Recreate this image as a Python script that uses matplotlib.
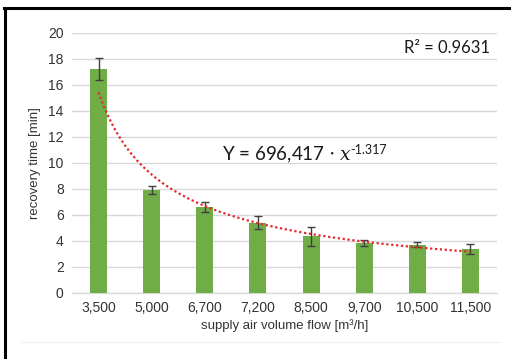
import numpy as np
import matplotlib
matplotlib.use("Agg")
import matplotlib.pyplot as plt
from matplotlib.lines import Line2D

categories = ["3,500", "5,000", "6,700", "7,200", "8,500", "9,700", "10,500", "11,500"]
recovery = [17.2, 7.95, 6.6, 5.35, 4.35, 3.85, 3.72, 3.36]
err_low = [0.8, 0.3, 0.4, 0.45, 0.75, 0.25, 0.18, 0.38]
err_high = [0.9, 0.3, 0.42, 0.55, 0.75, 0.25, 0.18, 0.38]
r2_label = "R² = 0.9631"
eq_main = r"Y = 696,417 $\cdot$ $\mathit{x}$"
eq_exp = "-1.317"

plt.rcParams["font.family"] = ["Liberation Sans", "DejaVu Sans"]
plt.rcParams["mathtext.fontset"] = "dejavuserif"

fig = plt.figure(figsize=(5.11, 3.59), dpi=100)
ax = fig.add_axes([72/511, 66/359, 425/511, 260/359])

x = np.arange(len(categories))
ax.bar(x, recovery, width=0.32, color="#70AD47", zorder=3)
ax.errorbar(x, recovery, yerr=[err_low, err_high], fmt="none", ecolor="#404040",
            elinewidth=1.0, capsize=3.0, capthick=1.0, zorder=4)

# power trendline fitted on category index (like Excel)
idx = x + 1
b, lna = np.polyfit(np.log(idx), np.log(recovery), 1)
xs = np.linspace(1, len(categories), 200)
ys = np.exp(lna) * xs ** b
ax.plot(xs - 1, ys, linestyle=(0, (1, 1.2)), color="#E8262A", linewidth=1.6, zorder=5)

ax.set_xlim(-0.5, len(categories) - 0.5)
ax.set_ylim(0, 20)
ax.set_yticks(np.arange(0, 21, 2))
ax.set_xticks(x)
ax.set_xticklabels(categories)
ax.tick_params(axis="both", length=0, labelsize=10, colors="#333333", pad=6)
ax.tick_params(axis="x", pad=6)
ax.grid(axis="y", color="#D9D9D9", linewidth=1.0, zorder=0)
ax.set_axisbelow(True)
for s in ["top", "right", "left"]:
    ax.spines[s].set_visible(False)
ax.spines["bottom"].set_color("#D9D9D9")
ax.spines["bottom"].set_linewidth(1.0)

ax.set_ylabel("recovery time [min]", fontsize=9.5, color="#333333", labelpad=5)
ax.set_xlabel("supply air volume flow [m³/h]", fontsize=9.5, color="#333333", labelpad=3)

ax.text(7.37, 18.85, r2_label, ha="right", va="center", fontsize=12,
        family=["Lato", "DejaVu Sans"], color="#1a1a1a")
t = ax.text(2.32, 10.6, eq_main, ha="left", va="center", fontsize=13.5,
            family=["Lato", "DejaVu Sans"], color="#1a1a1a")
fig.canvas.draw()
bb = t.get_window_extent()
fig.text((bb.x1 - 2) / fig.bbox.width, (bb.y1 + 1) / fig.bbox.height, eq_exp,
         ha="left", va="top", fontsize=9, family=["Lato", "DejaVu Sans"], color="#1a1a1a")

# outer frame (left and top)
fig.add_artist(Line2D([5/511, 5/511], [0, 1 - 8/359], transform=fig.transFigure,
                      color="black", linewidth=2.2))
fig.add_artist(Line2D([4/511, 1], [1 - 8/359, 1 - 8/359], transform=fig.transFigure,
                      color="black", linewidth=2.2))
fig.add_artist(Line2D([22/511, 500/511], [1 - 342/359, 1 - 342/359], transform=fig.transFigure,
                      color="#EEEEEE", linewidth=0.8))

fig.savefig("out.png", dpi=100)
